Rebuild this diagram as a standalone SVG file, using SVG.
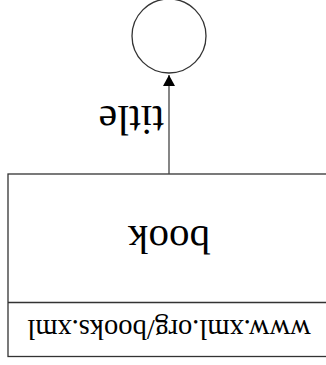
<svg xmlns="http://www.w3.org/2000/svg" width="326" height="365" viewBox="0 0 326 365">
<style>
.shape{fill:#fff;stroke:#333;stroke-width:1.3}
.edge{stroke:#444;stroke-width:1.3;fill:none}
text{font-family:"Liberation Serif","Times New Roman",serif;fill:#000}
</style>
<defs>
<marker id="arr" markerWidth="12" markerHeight="12" refX="11" refY="6" orient="auto" markerUnits="userSpaceOnUse">
<path d="M0,0 L11,6 L0,12 Z" fill="#000"/>
</marker>
</defs>
<rect width="326" height="365" fill="#fff"/>
<g transform="rotate(180 163 182.5)">
<g id="book">
<rect class="shape" x="-4" y="8.5" width="322" height="182.5"/>
<line class="shape" x1="-4" y1="62.5" x2="318" y2="62.5"/>
<text x="157" y="45" font-size="28.5" text-anchor="middle">www.xml.org/books.xml</text>
<text x="157" y="139" font-size="41" text-anchor="middle">book</text>
</g>
<g id="title-node">
<circle class="shape" cx="157" cy="329" r="37"/>
</g>
<g id="connectors">
<line class="edge" x1="157" y1="191" x2="157" y2="290" marker-end="url(#arr)"/>
<text x="162" y="259" font-size="42">title</text>
</g>
</g>
</svg>
